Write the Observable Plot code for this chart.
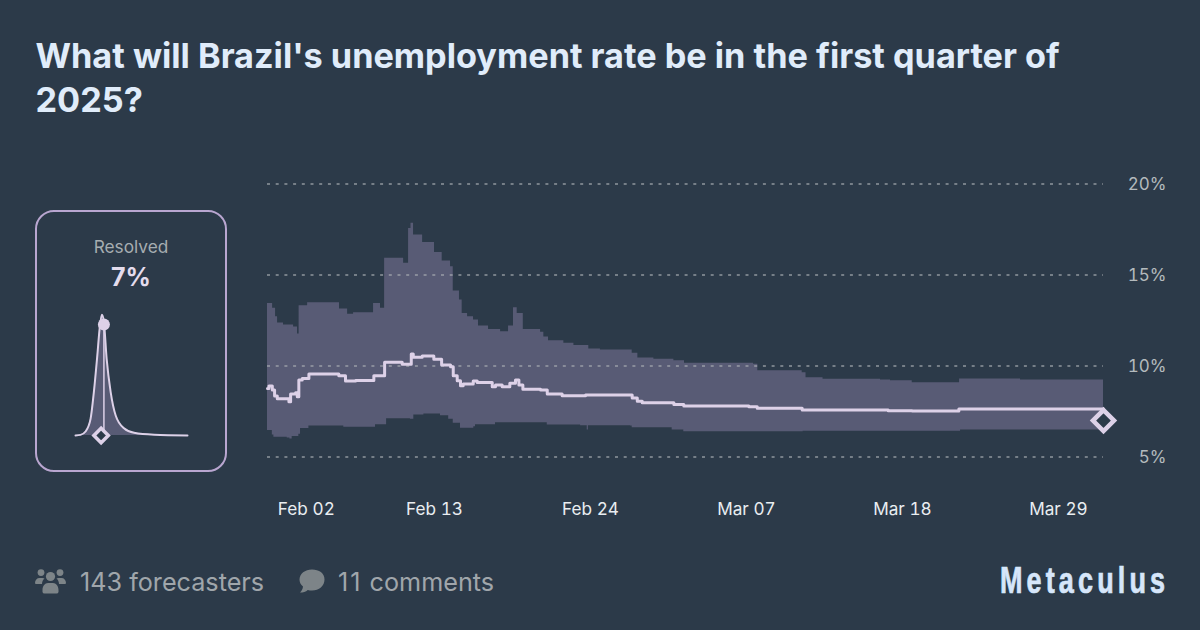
<!DOCTYPE html>
<html>
<head>
<meta charset="utf-8">
<script src="https://cdn.jsdelivr.net/npm/d3@7"></script>
<script src="https://cdn.jsdelivr.net/npm/@observablehq/plot@0.6"></script>
<style>
  html, body { margin: 0; padding: 0; }
  body { width: 1200px; height: 630px; background: #2c3a49; overflow: hidden; position: relative; font-family: Inter, sans-serif; }
  #title { position: absolute; left: 35.500px; top: 34px; width: 1100px; font-size: 34.250px; font-weight: 700; line-height: 44px; color: #e0ecfa; }
  #main { position: absolute; left: 0; top: 160px; }
  #panel { position: absolute; left: 35px; top: 210px; width: 188px; height: 258px; border: 2px solid #b9a6d0; border-radius: 19px; }
  #resolved { position: absolute; left: 0; right: 0; top: 24px; text-align: center; font-size: 17.300px; color: #a6adb1; }
  #value { position: absolute; left: 0; right: 0; top: 50px; text-align: center; font-size: 25px; font-weight: 700; color: #e4dced; }
  #mini { position: absolute; left: 60px; top: 300px; }
  .foot { position: absolute; top: 566.500px; font-size: 25.200px; line-height: 30px; color: #a0a6ab; }
  .icon { position: absolute; fill: #7d8488; }
  #brand { position: absolute; left: 1000px; top: 559px; font-family: "Liberation Sans", sans-serif; font-weight: 700; font-size: 36px; line-height: 44px; letter-spacing: 5.500px; color: #d6e6fa; -webkit-text-stroke: 0.700px #d6e6fa; transform: scaleX(0.75); transform-origin: left center; white-space: nowrap; }
  svg { background: transparent !important; overflow: visible; }
</style>
</head>
<body>
<div id="title">What will Brazil's unemployment rate be in the first quarter of 2025?</div>
<div id="panel"><div id="resolved">Resolved</div><div id="value">7%</div></div>
<div id="mini"></div>
<div id="main"></div>
<svg class="icon" style="left:35px;top:569px" width="31" height="25" viewBox="0 0 31 25">
  <circle cx="6" cy="3.6" r="3.4"/><circle cx="25" cy="3.6" r="3.4"/><circle cx="15.5" cy="7.5" r="4.6"/>
  <path d="M0 14c0-3 2-5 4.500-5h3c.8 0 1.500.2 2 .6-1.500 1.200-2.400 2.900-2.500 5.400H1a1 1 0 0 1-1-1z"/>
  <path d="M31 14c0-3-2-5-4.500-5h-3c-.8 0-1.500.2-2 .6 1.500 1.200 2.400 2.900 2.500 5.400H30a1 1 0 0 0 1-1z"/>
  <path d="M7.500 21c0-4 2.500-7 5.500-7h5c3 0 5.500 3 5.500 7v2a2 2 0 0 1-2 1.500H9.500a2 2 0 0 1-2-1.500z"/>
</svg>
<div class="foot" style="left:80px">143 forecasters</div>
<svg class="icon" style="left:299px;top:569px" width="26" height="25" viewBox="0 0 26 25">
  <path d="M13 .5C6 .5.500 4.800.500 10.500c0 2.800 1.300 5.300 3.500 7.100-.2 2.200-1.300 4.300-3 6 3 0 5.800-1 7.800-2.700 1.300.4 2.800.6 4.200.6 7 0 12.500-4.600 12.500-11S20 .5 13 .5z"/>
</svg>
<div class="foot" style="left:338px"><span style="letter-spacing:2px">11</span> comments</div>
<div id="brand">Metaculus</div>
<script>
// Days are counted from Feb 2, 2025.
const upperDays = [-0.78,-0.42,-0.21,-0.07,0.35,1.06,1.34,1.45,2.05,4.3,4.87,5.29,6.7,7.19,7.48,8.82,9.17,9.34,9.52,10.16,11.0,11.54,12.13,12.32,12.76,12.95,13.33,13.75,14.1,14.81,15.66,16.22,16.57,16.83,17.26,18.48,18.71,19.04,20.12,20.83,21.88,22.7,24.94,25.34,26.47,27.88,28.63,33.5,33.8,36.93,37.2,38.4,42.45,43.16,44.69,48.03,52.33,58.18];
const upperValues = [13.44,13.17,12.7,12.36,12.25,12.14,11.76,13.31,13.48,13.13,12.84,12.93,13.44,13.17,15.92,15.64,17.56,17.85,17.2,16.78,16.23,15.77,15.46,14.12,13.63,12.89,12.71,12.53,12.2,12.0,11.88,12.2,13.2,12.89,12.0,11.85,11.6,11.39,11.25,11.12,10.93,10.88,10.7,10.44,10.37,10.29,10.15,10.09,9.74,9.63,9.36,9.27,9.23,9.19,9.08,9.29,9.23,9.23];
const lowerDays = [-0.78,-0.44,-0.33,0.61,0.8,0.96,1.43,1.55,2.14,4.6,6.84,7.62,9.3,9.54,10.25,11.42,12.0,12.32,12.83,13.77,13.89,15.3,18.95,21.3,21.77,21.85,24.82,24.94,27.76,28.58,37.0,48.1,58.18];
const lowerValues = [6.45,6.21,6.08,6.04,5.99,6.12,6.25,6.57,6.7,6.63,6.77,7.1,7.07,7.31,7.36,7.27,7.07,6.85,6.58,6.66,6.77,6.88,6.76,6.72,6.48,6.72,6.7,6.61,6.48,6.39,6.42,6.48,6.48];
const medianDays = [-0.78,-0.68,-0.44,-0.28,-0.09,0.73,0.85,1.2,1.32,1.43,1.67,2.14,4.25,4.72,5.43,6.72,7.48,8.72,9.36,9.5,10.13,10.95,11.5,12.13,12.32,12.6,12.83,13.02,13.73,14.01,15.07,15.3,15.77,16.31,16.71,16.95,17.23,18.48,18.95,20.0,21.65,24.94,25.3,25.65,27.88,28.58,33.17,33.76,36.93,43.0,44.69,47.98,58.18];
const medianValues = [8.77,8.9,8.68,8.35,8.2,8.04,8.46,8.53,8.31,9.23,9.32,9.56,9.47,9.18,9.21,9.47,10.2,10.09,10.66,10.48,10.55,10.37,10.05,9.96,9.47,9.19,8.92,9.01,9.18,9.1,8.86,8.96,8.86,9.05,9.23,8.96,8.72,8.68,8.46,8.37,8.41,8.24,8.06,7.98,7.89,7.8,7.76,7.68,7.58,7.54,7.53,7.64,7.64];
const resolvedDay = 58.18;
const resolvedValue = 7;

const xTickDays = [0, 11, 22, 33, 44, 55];
const yTicks = [5, 10, 15, 20];

const densityValues = [0.63,1.88,3.13,4.38,5.2,6.05,6.63,7.2,7.7,8.38,9.38,10.63,12.7,15.2,20.2,28.5];
const densityHeights = [0,0.005,0.033,0.138,0.36,0.66,0.884,1,0.94,0.635,0.36,0.166,0.06,0.022,0.006,0];
const communityMedian = 7.7;
const communityHeight = 0.92;

const toDate = d => new Date(Date.UTC(2025, 1, 2) + d * 864e5);
const stepAt = (days, vals, d) => vals[Math.max(0, d3.bisectRight(days, d) - 1)];
const bandDays = [...new Set([...upperDays, ...lowerDays])].sort((a, b) => a - b);
const band = bandDays.map(d => ({date: toDate(d), hi: stepAt(upperDays, upperValues, d), lo: stepAt(lowerDays, lowerValues, d)}));
const median = medianDays.map((d, i) => ({date: toDate(d), v: medianValues[i]}));
const density = densityValues.map((v, i) => ({v, h: densityHeights[i]}));

const fmt = d3.utcFormat("%b %d");
const lavender = "#ddd1e8";
const bg = "#2c3a49";
const font = "Inter, sans-serif";

document.getElementById("main").append(Plot.plot({
  width: 1200, height: 370,
  marginLeft: 267, marginRight: 97, marginTop: 23.5, marginBottom: 73.5,
  style: {fontFamily: font, background: "transparent"},
  x: {type: "utc", domain: [toDate(-0.78), toDate(58.18)]},
  y: {domain: [5, 20]},
  marks: [
    Plot.areaY(band, {x: "date", y1: "lo", y2: "hi", curve: "step-after", fill: "#585b75"}),
    Plot.ruleY(yTicks, {stroke: "#a9aeb2", strokeOpacity: 0.8, strokeWidth: 1.6, strokeDasharray: "3 5.7"}),
    Plot.lineY(median, {x: "date", y: "v", curve: "step-after", stroke: lavender, strokeWidth: 3}),
    Plot.dot([{date: toDate(resolvedDay), v: resolvedValue}], {x: "date", y: "v", symbol: "diamond2", r: 9.5, fill: bg, stroke: lavender, strokeWidth: 4.5}),
    Plot.axisY({anchor: "right", ticks: yTicks, tickSize: 0, tickPadding: 63, dy: 1, textAnchor: "end", tickFormat: d => d + "%", label: null, fontSize: 17, color: "#b4babd"}),
    Plot.axisX({ticks: xTickDays.slice(0, 1).map(toDate), tickSize: 0, tickPadding: 45.5, dx: -0.7, textAnchor: "start", tickFormat: fmt, label: null, fontSize: 17.2, color: "#e9edf1"}),
    Plot.axisX({ticks: xTickDays.slice(1).map(toDate), tickSize: 0, tickPadding: 45.5, tickFormat: fmt, label: null, fontSize: 17.2, color: "#e9edf1"})
  ]
}));

document.getElementById("mini").append(Plot.plot({
  width: 140, height: 150,
  marginLeft: 15, marginRight: 13, marginTop: 14.3, marginBottom: 15,
  style: {background: "transparent"},
  x: {domain: [0.63, 28.5], axis: null},
  y: {domain: [0, 1], axis: null},
  marks: [
    Plot.areaY(density, {x: "v", y: "h", curve: "monotone-x", fill: "#585b75"}),
    Plot.lineY(density, {x: "v", y: "h", curve: "monotone-x", stroke: lavender, strokeWidth: 2}),
    Plot.ruleX([communityMedian], {y1: 0, y2: communityHeight, stroke: lavender, strokeWidth: 1.5}),
    Plot.dot([communityMedian], {x: d => d, y: communityHeight, r: 6, fill: lavender}),
    Plot.dot([resolvedValue], {x: d => d, y: 0, symbol: "diamond2", r: 6.5, fill: bg, stroke: lavender, strokeWidth: 3.5})
  ]
}));
</script>
</body>
</html>
